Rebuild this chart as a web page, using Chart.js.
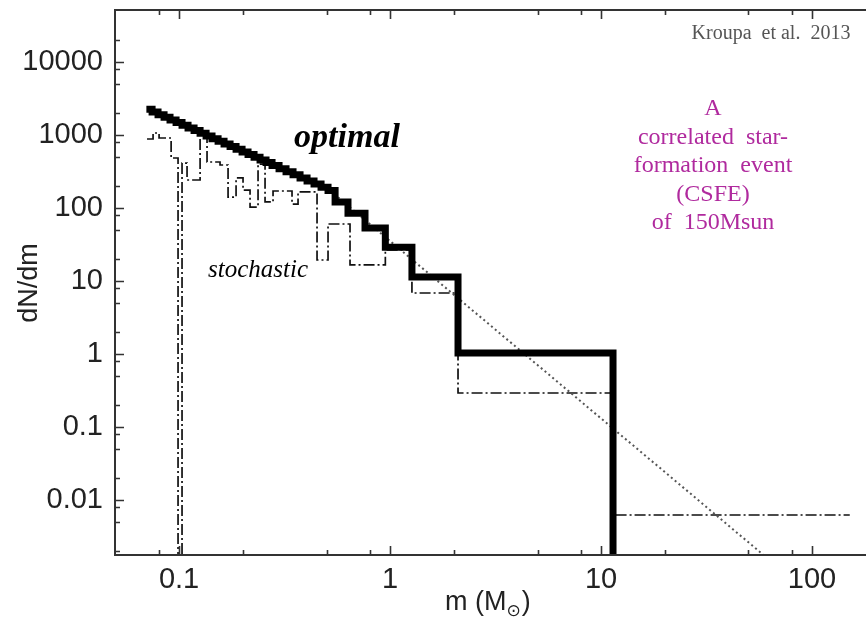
<!DOCTYPE html>
<html>
<head>
<meta charset="utf-8">
<script src="https://cdn.jsdelivr.net/npm/chart.js@4.4.0/dist/chart.umd.min.js"></script>
<style>
  html, body { margin: 0; padding: 0; background: #fff; overflow: hidden; }
  canvas { display: block; }
</style>
</head>
<body>
<canvas id="myChart" width="866" height="617"></canvas>
<script>
// histogram bin edges (Msun) and dN/dm per bin
const optimalEdges = [0.07, 0.0745, 0.0795, 0.0849, 0.0906, 0.0968, 0.1033, 0.1103, 0.1178, 0.1258,
  0.1343, 0.1433, 0.1531, 0.1634, 0.1745, 0.1863, 0.1989, 0.2123, 0.2267, 0.242,
  0.2584, 0.2759, 0.2978, 0.3214, 0.3469, 0.3745, 0.4043, 0.4363, 0.471, 0.5083,
  0.549, 0.632, 0.761, 0.95, 1.27, 2.1, 11.4];
const optimalValues = [2250, 2070, 1900, 1750, 1610, 1480, 1360, 1250, 1150, 1055,
  970, 890, 820, 755, 695, 640, 585, 540, 495, 455,
  420, 382, 346, 314, 285, 258, 234, 213, 192, 174,
  121, 85, 53, 29, 11.3, 1.03];

const stochasticEdges = [0.0705, 0.0753, 0.0804, 0.0917, 0.0989, 0.1033, 0.1091, 0.1258, 0.1357, 0.1564,
  0.1707, 0.1863, 0.201, 0.217, 0.2368, 0.2556, 0.2789, 0.3431, 0.3664, 0.4508,
  0.5083, 0.6461, 0.95, 1.27, 2.1, 11.4, 151];
const stochasticValues = [881, 1065, 910, 484, 0.0001, 413, 242, 1000, 427, 388,
  141, 258, 176, 103, 400, 121, 171, 113, 166, 19.4,
  60.4, 16.6, 26.6, 6.85, 0.292, 0.00623];

// canonical IMF (dotted)
const canonicalMass = [0.5, 70];
const canonicalValues = [190, 0.00116];

const xTickValues = [0.08, 0.1, 0.2, 0.5, 0.8, 1, 2, 5, 8, 10, 20, 50, 80, 100];
const xMajor = [0.1, 1, 10, 100];
const yTickValues = [0.002, 0.005, 0.008, 0.01, 0.02, 0.05, 0.08, 0.1, 0.2, 0.5, 0.8, 1,
  2, 5, 8, 10, 20, 50, 80, 100, 200, 500, 800, 1000, 2000, 5000, 8000, 10000, 20000];
const yMajor = [0.01, 0.1, 1, 10, 100, 1000, 10000];

function steps(edges, values, endY) {
  const pts = values.map((v, i) => ({ x: edges[i], y: v }));
  pts.push({ x: edges[edges.length - 1], y: endY });
  return pts;
}

const frame = {
  id: 'frame',
  afterDatasetsDraw(chart) {
    const { ctx, chartArea: a, scales: { x, y } } = chart;
    ctx.save();
    ctx.strokeStyle = '#333';
    ctx.lineWidth = 2;
    ctx.beginPath();
    ctx.moveTo(a.right, a.top);
    ctx.lineTo(a.left, a.top);
    ctx.lineTo(a.left, a.bottom);
    ctx.lineTo(a.right, a.bottom);
    ctx.stroke();

    ctx.lineWidth = 1.6;
    ctx.beginPath();
    xTickValues.forEach(v => {
      const px = Math.round(x.getPixelForValue(v)) + 0.5;
      const len = xMajor.includes(v) ? 9 : 5;
      ctx.moveTo(px, a.bottom);
      ctx.lineTo(px, a.bottom - len);
      ctx.moveTo(px, a.top);
      ctx.lineTo(px, a.top + len);
    });
    yTickValues.forEach(v => {
      const py = Math.round(y.getPixelForValue(v)) + 0.5;
      const len = yMajor.includes(v) ? 9 : 5;
      ctx.moveTo(a.left, py);
      ctx.lineTo(a.left + len, py);
    });
    ctx.stroke();
    ctx.restore();
  },
  afterDraw(chart) {
    const ctx = chart.ctx;
    ctx.save();
    ctx.fillStyle = '#222';
    ctx.textBaseline = 'alphabetic';

    // axis titles
    ctx.font = '27px "Liberation Sans", Arial, sans-serif';
    ctx.save();
    ctx.translate(37, 283);
    ctx.rotate(-Math.PI / 2);
    ctx.textAlign = 'center';
    ctx.fillText('dN/dm', 0, 0);
    ctx.restore();

    ctx.textAlign = 'left';
    const main = 'm (M';
    const x0 = 445;
    ctx.fillText(main, x0, 610);
    let w = ctx.measureText(main).width;
    ctx.font = '17px "DejaVu Sans", sans-serif';
    ctx.fillText('\u2299', x0 + w, 616);
    w += ctx.measureText('\u2299').width;
    ctx.font = '27px "Liberation Sans", Arial, sans-serif';
    ctx.fillText(')', x0 + w + 1, 610);

    // labels on the plot
    ctx.textAlign = 'center';
    ctx.fillStyle = '#000';
    ctx.font = 'italic bold 34px "Liberation Serif", "Times New Roman", serif';
    ctx.fillText('optimal', 347, 147);
    ctx.font = 'italic 25px "Liberation Serif", "Times New Roman", serif';
    ctx.fillText('stochastic', 258, 277);

    ctx.fillStyle = '#555';
    ctx.font = '20px "Liberation Serif", "Times New Roman", serif';
    ctx.fillText('Kroupa  et al.  2013', 771, 39);

    ctx.fillStyle = '#b02a9e';
    ctx.font = '24px "Liberation Serif", "Times New Roman", serif';
    const lines = ['A', 'correlated  star-', 'formation  event', '(CSFE)', 'of  150Msun'];
    lines.forEach((t, i) => ctx.fillText(t, 713, 115 + i * 28.5));
    ctx.restore();
  }
};

const ctx = document.getElementById('myChart');

const myChart = new Chart(ctx, {
  type: 'line',
  data: {
    datasets: [{
      label: 'optimal',
      data: steps(optimalEdges, optimalValues, 0.0001),
      stepped: 'before',
      borderColor: '#000',
      borderWidth: 7,
      borderJoinStyle: 'miter',
      pointRadius: 0,
      fill: false,
      clip: 0,
      order: 0
    }, {
      label: 'canonical',
      data: canonicalMass.map((m, i) => ({ x: m, y: canonicalValues[i] })),
      borderColor: '#555',
      borderWidth: 2,
      borderDash: [2, 3],
      pointRadius: 0,
      fill: false,
      clip: 0,
      order: 1
    }, {
      label: 'stochastic',
      data: steps(stochasticEdges, stochasticValues, stochasticValues[stochasticValues.length - 1]),
      stepped: 'before',
      borderColor: '#111',
      borderWidth: 1.7,
      borderDash: [11, 3, 2, 3],
      pointRadius: 0,
      fill: false,
      clip: 0,
      order: 2
    }]
  },
  options: {
    responsive: false,
    animation: false,
    devicePixelRatio: 1,
    layout: { padding: { top: 10, right: 0, bottom: 0, left: 0 } },
    plugins: {
      legend: { display: false },
      tooltip: { enabled: false }
    },
    scales: {
      x: {
        type: 'logarithmic',
        min: 0.0497,
        max: 180.3,
        bounds: 'data',
        grid: { display: false, drawTicks: false },
        border: { display: false },
        afterBuildTicks: scale => { scale.ticks = xTickValues.map(v => ({ value: v })); },
        afterFit: scale => {
          scale.height = 62;
          scale.paddingLeft = 0;
          scale.paddingRight = 0;
        },
        ticks: {
          autoSkip: false,
          maxRotation: 0,
          minRotation: 0,
          padding: 8,
          color: '#222',
          font: { family: '"Liberation Sans", Arial, sans-serif', size: 29 },
          callback: value => xMajor.includes(value) ? String(value) : ''
        }
      },
      y: {
        type: 'logarithmic',
        min: 0.001764,
        max: 51560,
        bounds: 'data',
        grid: { display: false, drawTicks: false },
        border: { display: false },
        afterBuildTicks: scale => { scale.ticks = yTickValues.map(v => ({ value: v })); },
        afterFit: scale => {
          scale.width = 115;
          scale.paddingTop = 0;
          scale.paddingBottom = 0;
        },
        ticks: {
          autoSkip: false,
          padding: 12,
          color: '#222',
          font: { family: '"Liberation Sans", Arial, sans-serif', size: 29 },
          callback: value => yMajor.includes(value) ? String(value) : ''
        }
      }
    }
  },
  plugins: [frame]
});
</script>
</body>
</html>
